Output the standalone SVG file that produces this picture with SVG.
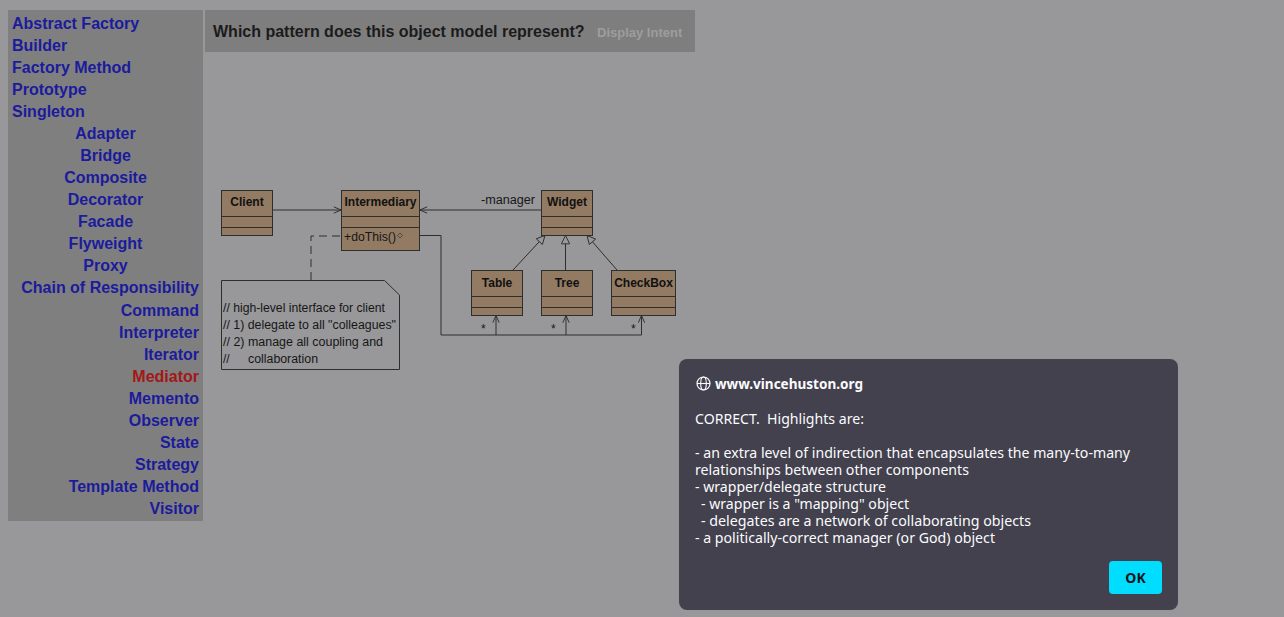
<svg xmlns="http://www.w3.org/2000/svg" width="1284" height="617" viewBox="0 0 1284 617">
<style>
.nav{font-family:"Liberation Sans",Arial,sans-serif;font-weight:bold;font-size:16px;fill:#1b1b9c}
.c{text-anchor:middle}
.r{text-anchor:end}
.box{fill:#937a63;stroke:#2e2e2e;stroke-width:1}
.ln{stroke:#2e2e2e;stroke-width:1;fill:none}
.nm{font-family:"Liberation Sans",Arial,sans-serif;font-weight:bold;font-size:12px;fill:#111;text-anchor:middle}
.tx{font-family:"Liberation Sans",Arial,sans-serif;font-size:12px;fill:#161616}
.dl{font-family:"Noto Sans","Open Sans",sans-serif;font-size:14px;fill:#fbfbfe}
</style>
<defs>
<marker id="open" viewBox="0 0 10 10" refX="10" refY="5" markerWidth="8" markerHeight="8" markerUnits="userSpaceOnUse" orient="auto">
<path d="M1,1 L10,5 L1,9" fill="none" stroke="#2e2e2e" stroke-width="1.2"/>
</marker>
<marker id="tri" viewBox="0 0 12 12" refX="11" refY="6" markerWidth="10" markerHeight="10" markerUnits="userSpaceOnUse" orient="auto">
<path d="M1,1 L11,6 L1,11 Z" fill="#98989a" stroke="#2e2e2e" stroke-width="1.1"/>
</marker>
</defs>
<rect x="0" y="0" width="1284" height="617" fill="#98989a"/>

<g id="sidebar">
<rect x="8" y="10" width="195" height="511" fill="#7f7f80"/>
<text class="nav" x="12" y="29">Abstract Factory</text>
<text class="nav" x="12" y="51">Builder</text>
<text class="nav" x="12" y="73">Factory Method</text>
<text class="nav" x="12" y="95">Prototype</text>
<text class="nav" x="12" y="117">Singleton</text>
<text class="nav c" x="105.5" y="139">Adapter</text>
<text class="nav c" x="105.5" y="161">Bridge</text>
<text class="nav c" x="105.5" y="183">Composite</text>
<text class="nav c" x="105.5" y="205">Decorator</text>
<text class="nav c" x="105.5" y="227">Facade</text>
<text class="nav c" x="105.5" y="249">Flyweight</text>
<text class="nav c" x="105.5" y="271">Proxy</text>
<text class="nav r" x="199" y="293">Chain of Responsibility</text>
<text class="nav r" x="199" y="316">Command</text>
<text class="nav r" x="199" y="338">Interpreter</text>
<text class="nav r" x="199" y="360">Iterator</text>
<text class="nav r" x="199" y="382" style="fill:#a31717">Mediator</text>
<text class="nav r" x="199" y="404">Memento</text>
<text class="nav r" x="199" y="426">Observer</text>
<text class="nav r" x="199" y="448">State</text>
<text class="nav r" x="199" y="470">Strategy</text>
<text class="nav r" x="199" y="492">Template Method</text>
<text class="nav r" x="199" y="514">Visitor</text>
</g>

<g id="header">
<rect x="205" y="10" width="490" height="42" fill="#7e7e7f"/>
<text x="213" y="37" style="font-family:'Liberation Sans',Arial,sans-serif;font-weight:bold;font-size:16px;fill:#1b1b1b">Which pattern does this object model represent?</text>
<text x="597" y="37" style="font-family:'Liberation Sans',Arial,sans-serif;font-weight:bold;font-size:13px;fill:#9d9d9e">Display Intent</text>
</g>

<g id="connectors">
<line class="ln" x1="273" y1="210" x2="341" y2="210" marker-end="url(#open)"/>
<line class="ln" x1="541" y1="210" x2="420" y2="210" marker-end="url(#open)"/>
<path class="ln" d="M311,280 V236 H341" stroke-dasharray="8,5"/>
<path class="ln" d="M419,235.5 H441 V335 H641.5"/>
<line class="ln" x1="496" y1="335" x2="496" y2="315.5" marker-end="url(#open)"/>
<line class="ln" x1="566" y1="335" x2="566" y2="315.5" marker-end="url(#open)"/>
<line class="ln" x1="641.5" y1="335" x2="641.5" y2="315.5" marker-end="url(#open)"/>
<line class="ln" x1="513" y1="270" x2="545" y2="235.5" marker-end="url(#tri)"/>
<line class="ln" x1="565.5" y1="270" x2="565.5" y2="235.5" marker-end="url(#tri)"/>
<line class="ln" x1="617" y1="270" x2="587" y2="235.5" marker-end="url(#tri)"/>
<text class="tx" x="481" y="204" textLength="54" lengthAdjust="spacingAndGlyphs">-manager</text>
<text class="tx" x="481" y="333">*</text>
<text class="tx" x="551" y="333">*</text>
<text class="tx" x="631" y="333">*</text>
</g>

<g id="client">
<rect class="box" x="221.5" y="190.5" width="51" height="45"/>
<line class="ln" x1="221.5" y1="216.5" x2="272.5" y2="216.5"/>
<line class="ln" x1="221.5" y1="227.5" x2="272.5" y2="227.5"/>
<text class="nm" x="247" y="206">Client</text>
</g>

<g id="intermediary">
<rect class="box" x="341.5" y="190.5" width="78" height="60"/>
<line class="ln" x1="341.5" y1="216.5" x2="419.5" y2="216.5"/>
<line class="ln" x1="341.5" y1="227.5" x2="419.5" y2="227.5"/>
<text class="nm" x="380.5" y="206">Intermediary</text>
<text class="tx" x="344" y="241" textLength="52" lengthAdjust="spacingAndGlyphs">+doThis()</text>
<path d="M400,233 L402.5,235.5 L400,238 L397.5,235.5 Z" fill="none" stroke="#333" stroke-width="0.7"/>
</g>

<g id="widget">
<rect class="box" x="541.5" y="190.5" width="51" height="45"/>
<line class="ln" x1="541.5" y1="216.5" x2="592.5" y2="216.5"/>
<line class="ln" x1="541.5" y1="227.5" x2="592.5" y2="227.5"/>
<text class="nm" x="567" y="206">Widget</text>
</g>

<g id="table">
<rect class="box" x="471.5" y="270.5" width="51" height="45"/>
<line class="ln" x1="471.5" y1="296.5" x2="522.5" y2="296.5"/>
<line class="ln" x1="471.5" y1="307.5" x2="522.5" y2="307.5"/>
<text class="nm" x="497" y="287">Table</text>
</g>

<g id="tree">
<rect class="box" x="541.5" y="270.5" width="51" height="45"/>
<line class="ln" x1="541.5" y1="296.5" x2="592.5" y2="296.5"/>
<line class="ln" x1="541.5" y1="307.5" x2="592.5" y2="307.5"/>
<text class="nm" x="567" y="287">Tree</text>
</g>

<g id="checkbox">
<rect class="box" x="611.5" y="270.5" width="64" height="45"/>
<line class="ln" x1="611.5" y1="296.5" x2="675.5" y2="296.5"/>
<line class="ln" x1="611.5" y1="307.5" x2="675.5" y2="307.5"/>
<text class="nm" x="643.5" y="287">CheckBox</text>
</g>

<g id="note">
<path class="ln" d="M221.5,280.5 H384.5 L399.5,295 V369.5 H221.5 Z"/>
<text class="tx" x="223" y="312" textLength="162" lengthAdjust="spacingAndGlyphs">// high-level interface for client</text>
<text class="tx" x="223" y="329" textLength="173" lengthAdjust="spacingAndGlyphs">// 1) delegate to all "colleagues"</text>
<text class="tx" x="223" y="346" textLength="160" lengthAdjust="spacingAndGlyphs">// 2) manage all coupling and</text>
<text class="tx" x="223" y="363">//</text>
<text class="tx" x="248" y="363" textLength="70" lengthAdjust="spacingAndGlyphs">collaboration</text>
</g>

<g id="dialog">
<rect x="679" y="359" width="499" height="251" rx="8" fill="#42414d"/>
<circle cx="703.5" cy="383.5" r="6.5" fill="none" stroke="#fbfbfe" stroke-width="1.2"/>
<ellipse cx="703.5" cy="383.5" rx="2.8" ry="6.5" fill="none" stroke="#fbfbfe" stroke-width="1.1"/>
<line x1="697" y1="383.5" x2="710" y2="383.5" stroke="#fbfbfe" stroke-width="1.1"/>
<text class="dl" x="715" y="389" style="font-weight:bold" textLength="148" lengthAdjust="spacingAndGlyphs">www.vincehuston.org</text>
<text class="dl" x="695" y="424" textLength="169" lengthAdjust="spacingAndGlyphs" xml:space="preserve">CORRECT.  Highlights are:</text>
<text class="dl" x="695" y="458" textLength="435" lengthAdjust="spacingAndGlyphs">- an extra level of indirection that encapsulates the many-to-many</text>
<text class="dl" x="695" y="475" textLength="274" lengthAdjust="spacingAndGlyphs">relationships between other components</text>
<text class="dl" x="695" y="492" textLength="191" lengthAdjust="spacingAndGlyphs">- wrapper/delegate structure</text>
<text class="dl" x="701" y="509" textLength="208" lengthAdjust="spacingAndGlyphs">- wrapper is a "mapping" object</text>
<text class="dl" x="701" y="526" textLength="330" lengthAdjust="spacingAndGlyphs">- delegates are a network of collaborating objects</text>
<text class="dl" x="695" y="543" textLength="300" lengthAdjust="spacingAndGlyphs">- a politically-correct manager (or God) object</text>
<rect x="1109" y="561" width="53" height="33" rx="4" fill="#00ddff"/>
<text x="1135.5" y="583" text-anchor="middle" style="font-family:'Noto Sans','Open Sans',sans-serif;font-weight:bold;font-size:14px;fill:#15141a">OK</text>
</g>
</svg>
